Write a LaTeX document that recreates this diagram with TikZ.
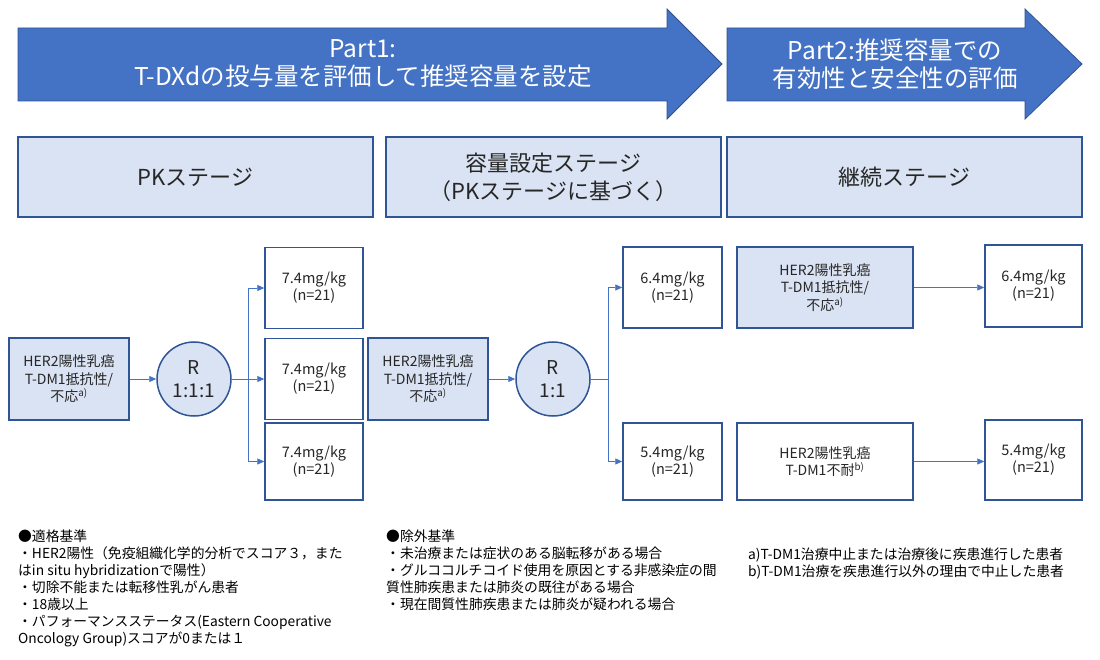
\documentclass[tikz,border=0pt]{standalone}
\usepackage{fontspec}
\setmainfont{Noto Sans CJK JP}
\usetikzlibrary{arrows.meta}

\definecolor{partblue}{HTML}{4472C4}
\definecolor{partedge}{HTML}{2F528F}
\definecolor{paleblue}{HTML}{DAE3F3}
\definecolor{boxedge}{HTML}{2F5597}
\definecolor{linkblue}{HTML}{4472C4}
\definecolor{inkgray}{HTML}{262626}

\tikzset{partarrow/.style={fill=partblue, draw=partedge, line width=0.8pt}}
\tikzset{parttext/.style={text=white, align=center, inner sep=0pt, font=\fontsize{24.5}{28}\selectfont}}
\tikzset{stagebox/.style={draw=boxedge, line width=1.2pt, fill=paleblue, minimum height=80pt,
                          inner sep=0pt, align=center, text=inkgray, font=\fontsize{22}{28}\selectfont}}
\tikzset{popbox/.style={draw=boxedge, line width=1.5pt, fill=paleblue, minimum height=82pt,
                        inner sep=0pt, align=center, text=inkgray, font=\fontsize{14}{17.5}\selectfont}}
\tikzset{dosebox/.style={draw=boxedge, line width=1.5pt, fill=white, minimum width=98pt, minimum height=81pt,
                         inner sep=0pt, align=center, text=inkgray, font=\fontsize{14.5}{17}\selectfont}}
\tikzset{randnode/.style={circle, draw=boxedge, line width=1.5pt, fill=paleblue, minimum size=74pt,
                          inner sep=0pt, align=center, text=inkgray, font=\fontsize{19}{23}\selectfont}}
\tikzset{link/.style={draw=linkblue, line width=0.9pt, -{Triangle[length=7pt,width=6pt]}}}
\tikzset{note/.style={anchor=north west, align=left, inner sep=0pt, font=\fontsize{13.8}{16.9}\selectfont}}

\begin{document}
\begin{tikzpicture}[x=1pt, y=-1pt]

\def\bodytop{28}
\def\bodybot{101}
\def\headtop{9}
\def\headbot{119}
\def\tipy{64}
\def\rowy{379}

\useasboundingbox (0,0) rectangle (1100,660);

%part arrows
\draw[partarrow] (18,\bodytop) -- (667,\bodytop) -- (667,\headtop) -- (722,\tipy)
                 -- (667,\headbot) -- (667,\bodybot) -- (18,\bodybot) -- cycle;
\draw[partarrow] (727,\bodytop) -- (1025,\bodytop) -- (1025,\headtop) -- (1082,\tipy)
                 -- (1025,\headbot) -- (1025,\bodybot) -- (727,\bodybot) -- cycle;
\node[parttext] (part1) at (363,\tipy) {Part1:\\T-DXdの投与量を評価して推奨容量を設定};
\node[parttext] (part2) at (895,\tipy) {Part2:推奨容量での\\有効性と安全性の評価};

%stage boxes
\node[stagebox, minimum width=355pt] (stagepk)   at (195.5,177) {PKステージ};
\node[stagebox, minimum width=335pt] (stagedose) at (553.5,177) {容量設定ステージ\\（PKステージに基づく）};
\node[stagebox, minimum width=355pt] (stagecont) at (904.5,177) {継続ステージ};

%PK stage
\node[popbox, minimum width=120pt] (popA) at (69,\rowy) {HER2陽性乳癌\\T-DM1抵抗性/\\不応\textsuperscript{a)}};
\node[randnode] (randA) at (194,\rowy) {R\\1:1:1};
\coordinate (forkA) at (248,\rowy);
\node[dosebox] (doseA1) at (314,288)   {7.4mg/kg\\(n=21)};
\node[dosebox] (doseA2) at (314,\rowy) {7.4mg/kg\\(n=21)};
\node[dosebox, minimum height=77pt] (doseA3) at (314,461.5) {7.4mg/kg\\(n=21)};

\draw[link] (popA.east) -- (randA.west);
\draw[link] (randA.east) -- (doseA2.west);
\draw[link] (forkA) |- (doseA1.west);
\draw[link] (forkA) |- (doseA3.west);

%dose setting stage
\node[popbox, minimum width=120pt] (popB) at (428,\rowy) {HER2陽性乳癌\\T-DM1抵抗性/\\不応\textsuperscript{a)}};
\node[randnode] (randB) at (553,\rowy) {R\\1:1};
\coordinate (forkB) at (608,\rowy);
\node[dosebox, minimum width=99pt] (doseB1) at (672.5,287.5) {6.4mg/kg\\(n=21)};
\node[dosebox, minimum width=99pt, minimum height=77pt] (doseB2) at (672.5,461.5) {5.4mg/kg\\(n=21)};

\draw[link] (popB.east) -- (randB.west);
\draw[draw=linkblue, line width=0.9pt] (randB.east) -- (forkB);
\draw[link] (forkB) |- (doseB1.west);
\draw[link] (forkB) |- (doseB2.west);

%continuation stage
\node[popbox, minimum width=176pt, minimum height=81pt] (popC) at (825,287.5) {HER2陽性乳癌\\T-DM1抵抗性/\\不応\textsuperscript{a)}};
\node[popbox, fill=white, minimum width=176pt, minimum height=77pt] (popD) at (825,461.5) {HER2陽性乳癌\\T-DM1不耐\textsuperscript{b)}};
\node[dosebox, minimum width=97pt, minimum height=82pt] (doseC1) at (1033.5,286) {6.4mg/kg\\(n=21)};
\node[dosebox, minimum width=97pt, minimum height=80pt] (doseC2) at (1033.5,460) {5.4mg/kg\\(n=21)};

\draw[link] (popC.east) -- (popC.east -| doseC1.west);
\draw[link] (popD.east) -- (popD.east -| doseC2.west);

%criteria
\node[note] (incl) at (18,530) {●適格基準\\
・HER2陽性（免疫組織化学的分析でスコア３，また\\
はin situ hybridizationで陽性）\\
・切除不能または転移性乳がん患者\\
・18歳以上\\
・パフォーマンスステータス(Eastern Cooperative\\
Oncology Group)スコアが0または１};
\node[note] (excl) at (386,530) {●除外基準\\
・未治療または症状のある脳転移がある場合\\
・グルココルチコイド使用を原因とする非感染症の間\\
質性肺疾患または肺炎の既往がある場合\\
・現在間質性肺疾患または肺炎が疑われる場合};
\node[note] (foot) at (748,548) {a)T-DM1治療中止または治療後に疾患進行した患者\\
b)T-DM1治療を疾患進行以外の理由で中止した患者};

\end{tikzpicture}
\end{document}
